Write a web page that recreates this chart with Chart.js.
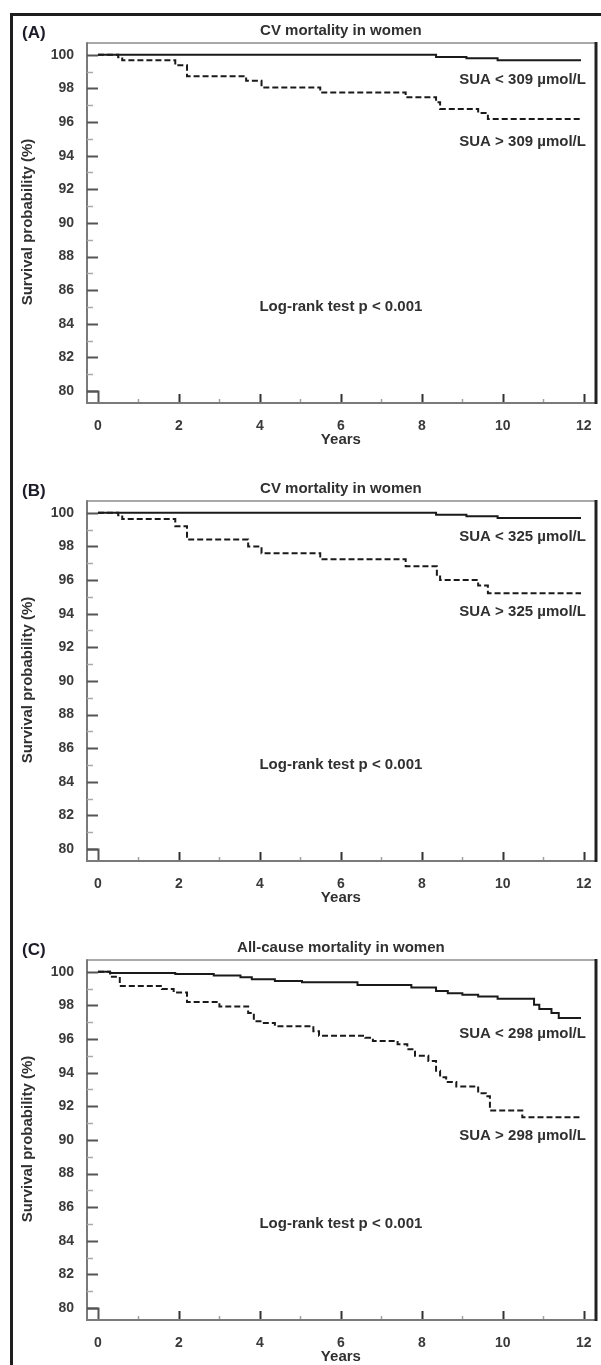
<!DOCTYPE html>
<html>
<head>
<meta charset="utf-8">
<script src="https://cdn.jsdelivr.net/npm/chart.js@4.4.1/dist/chart.umd.min.js"></script>
<style>
  html, body { margin: 0; padding: 0; background: #fff; }
  body { width: 601px; height: 1365px; overflow: hidden; position: relative; }
  #frame { position: absolute; left: 10px; top: 13px; width: 620px; height: 1400px;
           border-left: 3px solid #1e1e1e; border-top: 3px solid #1e1e1e; box-sizing: border-box; }
  canvas { position: absolute; left: 0; }
</style>
</head>
<body>
<div id="frame"></div>
<canvas id="pA" width="601" height="458" style="top:0px"></canvas>
<canvas id="pB" width="601" height="458" style="top:458px"></canvas>
<canvas id="pC" width="601" height="458" style="top:917px"></canvas>
<script>
// Axis ticks
const yearTicks = [0, 2, 4, 6, 8, 10, 12];
const survTicks = [80, 82, 84, 86, 88, 90, 92, 94, 96, 98, 100];

// (A) CV mortality, cut-off 309 µmol/L
const aLowT  = [0, 8.35, 9.1, 9.87, 11.93];
const aLowS  = [100, 99.86, 99.8, 99.67, 99.67];
const aHighT = [0, 0.5, 0.6, 1.91, 2.2, 3.66, 4.04, 5.49, 7.6, 8.35, 8.45, 9.39, 9.63, 11.93];
const aHighS = [100, 99.85, 99.67, 99.37, 98.73, 98.45, 98.06, 97.76, 97.47, 97.18, 96.78, 96.53, 96.18, 96.18];

// (B) CV mortality, cut-off 325 µmol/L
const bLowT  = [0, 8.35, 9.1, 9.87, 11.93];
const bLowS  = [100, 99.88, 99.8, 99.69, 99.69];
const bHighT = [0, 0.5, 0.6, 1.91, 2.2, 3.71, 4.04, 5.49, 7.6, 8.37, 8.45, 9.39, 9.63, 11.93];
const bHighS = [100, 99.85, 99.63, 99.2, 98.41, 98.0, 97.6, 97.24, 96.82, 96.31, 96.0, 95.67, 95.22, 95.22];

// (C) All-cause mortality, cut-off 298 µmol/L
const cLowT  = [0, 0.3, 1.91, 2.86, 3.52, 3.8, 4.37, 5.04, 6.41, 7.74, 8.35, 8.64, 9.0, 9.39, 9.87, 10.77, 10.9, 11.2, 11.38, 11.93];
const cLowS  = [100, 99.92, 99.86, 99.78, 99.67, 99.55, 99.45, 99.37, 99.22, 99.06, 98.86, 98.73, 98.63, 98.53, 98.39, 98.04, 97.78, 97.55, 97.25, 97.25];
const cHighT = [0, 0.3, 0.54, 1.58, 1.87, 2.2, 3.0, 3.71, 3.85, 4.04, 4.37, 5.32, 5.46, 6.6, 6.79, 7.4, 7.64, 7.83, 8.16, 8.35, 8.45, 8.6, 8.85, 9.39, 9.58, 9.68, 10.48, 11.93];
const cHighS = [100, 99.7, 99.16, 98.98, 98.76, 98.2, 97.94, 97.55, 97.06, 96.96, 96.76, 96.47, 96.2, 96.08, 95.88, 95.69, 95.39, 95.0, 94.7, 94.12, 93.73, 93.45, 93.18, 92.78, 92.59, 91.75, 91.35, 91.35];

const panels = [
  { id: 'pA', letter: '(A)', title: 'CV mortality in women',
    lowT: aLowT, lowS: aLowS, highT: aHighT, highS: aHighS,
    lowLabel: 'SUA < 309 µmol/L', highLabel: 'SUA > 309 µmol/L', lowAt: 98.5, highAt: 94.8 },
  { id: 'pB', letter: '(B)', title: 'CV mortality in women',
    lowT: bLowT, lowS: bLowS, highT: bHighT, highS: bHighS,
    lowLabel: 'SUA < 325 µmol/L', highLabel: 'SUA > 325 µmol/L', lowAt: 98.55, highAt: 94.1 },
  { id: 'pC', letter: '(C)', title: 'All-cause mortality in women',
    lowT: cLowT, lowS: cLowS, highT: cHighT, highS: cHighS,
    lowLabel: 'SUA < 298 µmol/L', highLabel: 'SUA > 298 µmol/L', lowAt: 96.3, highAt: 90.25 }
];

const FONT = '"Liberation Sans", Arial, sans-serif';
const TEXT = '#303030';

const toPoints = (t, s) => t.map((v, i) => ({ x: v, y: s[i] }));

// Draws the plot frame, inward ticks and all annotation text of a panel
const kmDecor = {
  id: 'kmDecor',
  afterDraw(chart, args, o) {
    const { ctx, chartArea: { left, right, top, bottom }, scales: { x, y } } = chart;
    ctx.save();
    ctx.lineCap = 'butt';

    // top edge of plot box
    ctx.strokeStyle = '#8c8c8c'; ctx.lineWidth = 1.5;
    ctx.beginPath(); ctx.moveTo(left, top); ctx.lineTo(right, top); ctx.stroke();
    // axes
    ctx.strokeStyle = '#7a7a7a'; ctx.lineWidth = 2;
    ctx.beginPath(); ctx.moveTo(left, top - 0.75); ctx.lineTo(left, bottom + 1);
    ctx.lineTo(right, bottom + 1); ctx.stroke();
    // heavy right edge
    ctx.strokeStyle = '#222'; ctx.lineWidth = 3;
    ctx.beginPath(); ctx.moveTo(right, top - 1); ctx.lineTo(right, bottom + 2); ctx.stroke();

    // y ticks (inward)
    for (let v = 80; v <= 100; v++) {
      const py = Math.round(y.getPixelForValue(v)) + 0.5;
      const major = v % 2 === 0;
      ctx.strokeStyle = major ? '#555' : '#aaa';
      ctx.lineWidth = major ? 2 : 1.5;
      ctx.beginPath(); ctx.moveTo(left, py); ctx.lineTo(left + (major ? 11 : 6), py); ctx.stroke();
    }
    // x ticks (inward)
    for (let t = 1; t <= 12; t++) {
      const px = Math.round(x.getPixelForValue(t)) + 0.5;
      const major = t % 2 === 0;
      ctx.strokeStyle = major ? '#333' : '#a0a0a0';
      ctx.lineWidth = major ? 2 : 1.5;
      ctx.beginPath(); ctx.moveTo(px, bottom); ctx.lineTo(px, bottom - (major ? 8 : 3)); ctx.stroke();
    }
    // origin bracket at (0, 80)
    const x0 = Math.round(x.getPixelForValue(0)) + 0.5;
    const y80 = Math.round(y.getPixelForValue(80)) + 0.5;
    ctx.strokeStyle = '#555'; ctx.lineWidth = 2;
    ctx.beginPath(); ctx.moveTo(left, y80); ctx.lineTo(x0, y80); ctx.lineTo(x0, bottom); ctx.stroke();

    const cx = x.getPixelForValue(6);
    ctx.textBaseline = 'middle';

    // panel letter
    ctx.fillStyle = '#1c1c28';
    ctx.font = 'bold 17px ' + FONT;
    ctx.textAlign = 'left';
    ctx.fillText(o.letter, 22, 33);

    ctx.fillStyle = TEXT;
    ctx.font = 'bold 15px ' + FONT;
    ctx.textAlign = 'center';
    ctx.fillText(o.title, cx, 31);
    ctx.fillText('Years', cx, 440);
    ctx.fillText('Log-rank test p < 0.001', cx, y.getPixelForValue(85));

    ctx.textAlign = 'right';
    const rx = x.getPixelForValue(12.05);
    ctx.fillText(o.lowLabel, rx, y.getPixelForValue(o.lowAt));
    ctx.fillText(o.highLabel, rx, y.getPixelForValue(o.highAt));

    ctx.save();
    ctx.translate(28, 222);
    ctx.rotate(-Math.PI / 2);
    ctx.textAlign = 'center';
    ctx.fillText('Survival probability (%)', 0, 0);
    ctx.restore();

    ctx.restore();
  }
};

panels.forEach(p => {
  new Chart(document.getElementById(p.id), {
    type: 'line',
    data: {
      datasets: [
        { label: p.lowLabel, data: toPoints(p.lowT, p.lowS), stepped: 'before',
          borderColor: '#1a1a1a', borderWidth: 2, pointRadius: 0, fill: false },
        { label: p.highLabel, data: toPoints(p.highT, p.highS), stepped: 'before',
          borderColor: '#1a1a1a', borderWidth: 2, borderDash: [6, 3], pointRadius: 0, fill: false }
      ]
    },
    options: {
      responsive: false,
      animation: false,
      events: [],
      layout: { padding: { top: 43, left: 0, right: 5, bottom: 0 } },
      plugins: { legend: { display: false }, tooltip: { enabled: false }, title: { display: false },
                 kmDecor: p },
      scales: {
        x: {
          type: 'linear', min: -0.27, max: 12.3,
          afterBuildTicks: s => { s.ticks = yearTicks.map(v => ({ value: v })); },
          afterFit: s => { s.height = 56; },
          grid: { display: false }, border: { display: false },
          ticks: { padding: 8, color: '#3a3a3a', font: { family: FONT, size: 14, weight: 'bold' },
                   maxRotation: 0, autoSkip: false }
        },
        y: {
          type: 'linear', min: 79.35, max: 100.7,
          afterBuildTicks: s => { s.ticks = survTicks.map(v => ({ value: v })); },
          afterFit: s => { s.width = 87; },
          grid: { display: false }, border: { display: false },
          ticks: { padding: 5, color: '#3a3a3a', font: { family: FONT, size: 14, weight: 'bold' } }
        }
      }
    },
    plugins: [kmDecor]
  });
});
</script>
</body>
</html>
